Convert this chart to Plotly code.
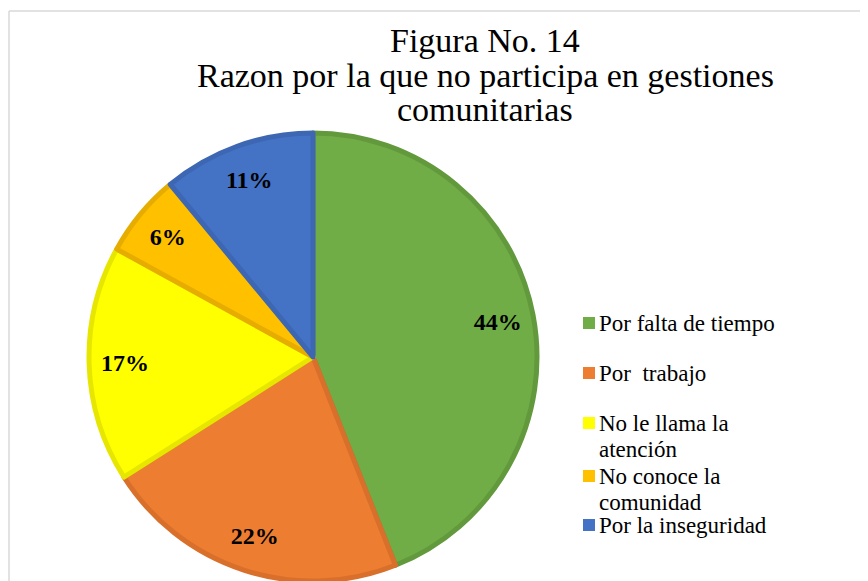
import plotly.graph_objects as go

categories = ["Por falta de tiempo", "Por  trabajo", "No le llama la<br>atención",
              "No conoce la<br>comunidad", "Por la inseguridad"]
values = [44, 22, 17, 6, 11]
fill_colors = ["#70AD47", "#ED7D31", "#FFFF00", "#FFC000", "#4472C4"]
edge_colors = ["#62993C", "#D8702B", "#E6E600", "#E6AC00", "#3D67B3"]
title_lines = ["Figura No. 14", "Razon por la que no participa en gestiones", "comunitarias"]

SERIF = "Times New Roman, Liberation Serif, serif"
W, H = 860, 573   # page shows the figure offset by the 8px body margin
OFF = 8


def px(X):
    return (X - OFF) / W


def py(Y):
    return 1 - (Y - OFF) / H


pie_domain = dict(x=[px(88), px(538)], y=[0, py(133)])

fig = go.Figure()
fig.add_trace(go.Pie(
    labels=categories, values=values, sort=False, direction="clockwise", rotation=0,
    marker=dict(colors=fill_colors, line=dict(color=edge_colors, width=5)),
    textinfo="none", domain=pie_domain, hoverinfo="label+percent", showlegend=False,
))
fig.add_trace(go.Pie(
    labels=categories, values=values, sort=False, direction="clockwise", rotation=0,
    hole=0.68,
    marker=dict(colors=["rgba(0,0,0,0)"] * len(values), line=dict(width=0)),
    texttemplate="<b>%{percent:.0%}</b>", textposition="inside",
    insidetextorientation="horizontal",
    textfont=dict(family=SERIF, size=24, color="black"),
    domain=pie_domain, hoverinfo="skip", showlegend=False,
))

annotations = []
title_y = [40, 76, 110]
for line, yy in zip(title_lines, title_y):
    annotations.append(dict(
        text=line, xref="paper", yref="paper", x=px(485), y=py(yy),
        xanchor="center", yanchor="middle", showarrow=False,
        font=dict(family=SERIF, size=34, color="black"),
    ))

shapes = [
    dict(type="line", xref="paper", yref="paper", x0=px(9), x1=1.0, y0=py(11), y1=py(11),
         line=dict(color="#D9D9D9", width=1.5)),
    dict(type="line", xref="paper", yref="paper", x0=px(9), x1=px(9), y0=0, y1=py(11),
         line=dict(color="#D9D9D9", width=1.5)),
]

legend_y = [323, 373, 423, 476, 525]
for cat, col, yy in zip(categories, fill_colors, legend_y):
    shapes.append(dict(type="rect", xref="paper", yref="paper",
                       x0=px(583), x1=px(595), y0=py(yy + 6), y1=py(yy - 6),
                       fillcolor=col, line=dict(width=0)))
    for k, part in enumerate(cat.split("<br>")):
        annotations.append(dict(
            text=part, xref="paper", yref="paper", x=px(597), y=py(yy + k * 26),
            xanchor="left", yanchor="middle", align="left", showarrow=False,
            font=dict(family=SERIF, size=23, color="black"),
        ))

fig.update_layout(
    width=W, height=H,
    paper_bgcolor="white",
    margin=dict(l=0, r=0, t=0, b=0),
    showlegend=False,
    uniformtext=dict(minsize=24, mode="show"),
    annotations=annotations,
    shapes=shapes,
)

fig.write_html("out.html")
